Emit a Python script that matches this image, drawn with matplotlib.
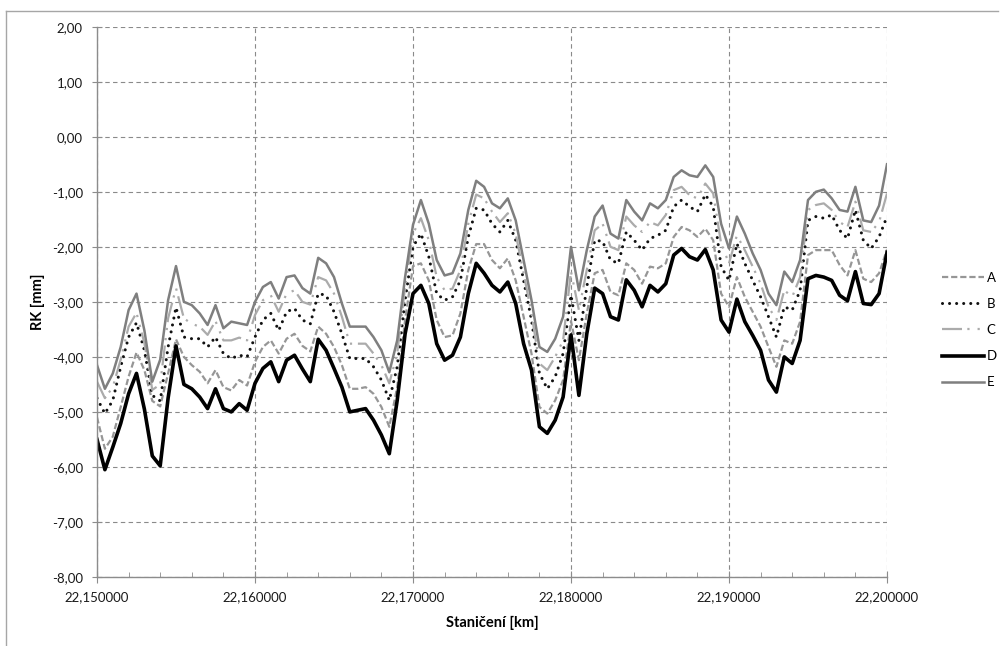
import matplotlib
matplotlib.use("Agg")
import matplotlib.pyplot as plt
import matplotlib.ticker as mticker
from matplotlib.lines import Line2D
import numpy as np

plt.rcParams["font.family"] = ["Lato", "DejaVu Sans"]

# station in metres from 22,150 km, sampled every 0.5 m
station_m = np.arange(0, 50.5, 0.5)
station_km = 22.15 + station_m / 1000.0

series_a = [
    -5.10, -5.67, -5.45, -4.91, -4.36, -3.92, -4.24, -4.80, -4.90, -4.30,
    -3.68, -4.00, -4.15, -4.27, -4.48, -4.24, -4.55, -4.61, -4.42, -4.52,
    -4.09, -3.82, -3.70, -3.94, -3.67, -3.58, -3.80, -3.90, -3.45, -3.58,
    -3.82, -4.15, -4.58, -4.58, -4.55, -4.67, -4.91, -5.27, -4.55, -3.33,
    -2.35, -2.30, -2.61, -3.33, -3.64, -3.61, -3.21, -2.42, -1.95, -1.95,
    -2.24, -2.39, -2.21, -2.61, -3.27, -3.94, -4.91, -5.03, -4.79, -4.42,
    -3.35, -4.06, -3.21, -2.48, -2.42, -2.82, -2.88, -2.30, -2.42, -2.67,
    -2.36, -2.39, -2.30, -1.82, -1.64, -1.70, -1.82, -1.67, -1.88, -2.85,
    -3.09, -2.55, -2.91, -3.18, -3.45, -3.82, -4.18, -3.70, -3.76, -3.36,
    -2.15, -2.06, -2.06, -2.06, -2.33, -2.52, -2.06, -2.58, -2.64, -2.48,
    -2.05,
]
series_b = [
    -4.75, -5.03, -4.79, -4.18, -3.64, -3.38, -3.88, -4.70, -4.80, -3.82,
    -3.10, -3.64, -3.67, -3.67, -3.82, -3.64, -3.94, -4.03, -3.97, -4.00,
    -3.64, -3.33, -3.21, -3.52, -3.18, -3.12, -3.33, -3.40, -2.85, -2.88,
    -3.18, -3.58, -4.03, -4.03, -4.03, -4.18, -4.42, -4.79, -4.18, -2.97,
    -2.00, -1.76, -2.18, -2.85, -2.97, -2.91, -2.61, -1.82, -1.30, -1.33,
    -1.58, -1.73, -1.52, -1.88, -2.61, -3.33, -4.30, -4.58, -4.36, -3.94,
    -2.88, -3.70, -2.73, -1.88, -1.90, -2.24, -2.30, -1.73, -1.88, -2.06,
    -1.85, -1.79, -1.70, -1.27, -1.15, -1.27, -1.36, -1.05, -1.27, -2.36,
    -2.61, -1.94, -2.30, -2.61, -2.91, -3.27, -3.64, -3.09, -3.15, -2.79,
    -1.52, -1.45, -1.48, -1.42, -1.70, -1.85, -1.33, -1.88, -2.03, -1.82,
    -1.45,
]
series_c = [
    -4.45, -4.75, -4.55, -4.05, -3.45, -3.20, -3.75, -4.60, -4.50, -3.30,
    -2.75, -3.30, -3.40, -3.45, -3.60, -3.35, -3.70, -3.70, -3.65, -3.70,
    -3.24, -2.97, -2.88, -3.18, -2.85, -2.79, -3.00, -3.05, -2.55, -2.61,
    -2.85, -3.27, -3.76, -3.76, -3.76, -3.94, -4.15, -4.48, -3.94, -2.73,
    -1.76, -1.48, -1.88, -2.55, -2.79, -2.76, -2.42, -1.58, -1.05, -1.12,
    -1.36, -1.55, -1.39, -1.76, -2.48, -3.21, -4.12, -4.24, -4.00, -3.70,
    -2.45, -3.15, -2.42, -1.70, -1.58, -2.00, -2.06, -1.45, -1.61, -1.73,
    -1.55, -1.61, -1.42, -0.97, -0.91, -1.06, -1.12, -0.85, -1.03, -1.94,
    -2.30, -1.79, -2.06, -2.36, -2.67, -3.09, -3.33, -2.79, -2.91, -2.55,
    -1.33, -1.24, -1.21, -1.33, -1.55, -1.64, -1.18, -1.70, -1.73, -1.55,
    -1.03,
]
series_d = [
    -5.50, -6.05, -5.64, -5.21, -4.67, -4.30, -4.95, -5.80, -5.98, -4.75,
    -3.80, -4.50, -4.58, -4.73, -4.94, -4.58, -4.94, -5.00, -4.85, -4.97,
    -4.48, -4.21, -4.09, -4.45, -4.06, -3.97, -4.22, -4.45, -3.68, -3.88,
    -4.21, -4.55, -5.00, -4.97, -4.94, -5.15, -5.42, -5.76, -4.79, -3.58,
    -2.85, -2.70, -3.03, -3.76, -4.06, -3.97, -3.64, -2.85, -2.30, -2.48,
    -2.70, -2.82, -2.64, -3.03, -3.76, -4.24, -5.27, -5.39, -5.15, -4.73,
    -3.60, -4.70, -3.58, -2.75, -2.85, -3.27, -3.33, -2.60, -2.79, -3.09,
    -2.70, -2.82, -2.67, -2.15, -2.03, -2.18, -2.24, -2.05, -2.42, -3.33,
    -3.55, -2.95, -3.36, -3.61, -3.88, -4.42, -4.64, -4.00, -4.12, -3.70,
    -2.58, -2.52, -2.55, -2.61, -2.88, -2.98, -2.45, -3.03, -3.05, -2.85,
    -2.10,
]
series_e = [
    -4.15, -4.58, -4.30, -3.82, -3.15, -2.85, -3.52, -4.45, -4.05, -2.97,
    -2.35, -3.00, -3.06, -3.21, -3.42, -3.06, -3.48, -3.36, -3.39, -3.42,
    -3.00, -2.73, -2.64, -2.94, -2.55, -2.52, -2.75, -2.85, -2.20, -2.30,
    -2.55, -3.03, -3.45, -3.45, -3.45, -3.64, -3.88, -4.28, -3.70, -2.55,
    -1.60, -1.15, -1.58, -2.24, -2.52, -2.48, -2.12, -1.33, -0.80, -0.91,
    -1.21, -1.30, -1.12, -1.52, -2.24, -2.97, -3.82, -3.91, -3.67, -3.27,
    -2.00, -2.79, -2.06, -1.45, -1.25, -1.76, -1.85, -1.15, -1.36, -1.52,
    -1.21, -1.30, -1.15, -0.73, -0.61, -0.70, -0.73, -0.52, -0.73, -1.58,
    -2.03, -1.45, -1.76, -2.12, -2.42, -2.85, -3.06, -2.45, -2.64, -2.24,
    -1.15, -1.00, -0.96, -1.12, -1.33, -1.36, -0.91, -1.52, -1.55, -1.25,
    -0.50,
]

labels = ["A", "B", "C", "D", "E"]
values = [series_a, series_b, series_c, series_d, series_e]
styles = [
    dict(color="#969696", lw=1.6, ls=(0, (2.8, 1.3))),
    dict(color="#111111", lw=2.2, ls=(0, (0.01, 2.3)), dash_capstyle="round"),
    dict(color="#ababab", lw=1.6, ls=(0, (9.0, 2.4, 1.0, 3.6, 1.0, 2.6))),
    dict(color="#000000", lw=2.6, ls="-"),
    dict(color="#7f7f7f", lw=1.8, ls="-"),
]

fig = plt.figure(figsize=(10.03, 6.46), dpi=100)
ax = fig.add_axes([97 / 1003, 69 / 646, 790 / 1003, 550.3 / 646])

handles = []
for lab, vals, st in zip(labels, values, styles):
    (ln,) = ax.plot(station_km, vals, label=lab, solid_joinstyle="round", **st)
    handles.append(ln)

ax.set_xlim(22.15, 22.20)
ax.set_ylim(-8, 2)
ax.xaxis.set_major_locator(mticker.MultipleLocator(0.01))
ax.xaxis.set_minor_locator(mticker.MultipleLocator(0.002))
ax.yaxis.set_major_locator(mticker.MultipleLocator(1.0))
ax.xaxis.set_major_formatter(mticker.FuncFormatter(lambda v, p: f"{v:.6f}".replace(".", ",")))
ax.yaxis.set_major_formatter(mticker.FuncFormatter(lambda v, p: f"{v:.2f}".replace(".", ",")))

ax.grid(True, which="major", color="#8a8a8a", lw=0.8, ls=(0, (4, 3)))
ax.set_axisbelow(True)
for side in ["top", "right"]:
    ax.spines[side].set_visible(False)
for side in ["left", "bottom"]:
    ax.spines[side].set_color("#8c8c8c")
    ax.spines[side].set_linewidth(1.0)

ax.tick_params(axis="x", which="major", direction="inout", length=8, color="#8c8c8c",
               labelsize=9.5, labelcolor="#1a1a1a", pad=6)
ax.tick_params(axis="x", which="minor", direction="in", length=3.6, color="#8c8c8c")
ax.tick_params(axis="y", which="major", direction="inout", length=6.5, color="#8c8c8c",
               labelsize=9.5, labelcolor="#1a1a1a", pad=7)

ax.set_xlabel("Staničení [km]", fontsize=10.5, fontweight="bold", labelpad=9)
ax.set_ylabel("RK [mm]", fontsize=10.5, fontweight="bold", labelpad=5)

fig.legend(handles=handles, labels=labels, loc="center left",
           bbox_to_anchor=(930 / 1003, 1 - 330 / 646), frameon=False,
           fontsize=9.5, handlelength=3.2, handletextpad=0.2, labelspacing=1.08)

# outer chart frame (top and left edges visible in the reference)
fig.add_artist(Line2D([6 / 1003, 6 / 1003], [0, 1 - 11 / 646], transform=fig.transFigure,
                      color="#a6a6a6", lw=1.0))
fig.add_artist(Line2D([6 / 1003, 998 / 1003], [1 - 11 / 646, 1 - 11 / 646],
                      transform=fig.transFigure, color="#a6a6a6", lw=1.0))

fig.savefig("out.png", dpi=100)
plt.close(fig)
